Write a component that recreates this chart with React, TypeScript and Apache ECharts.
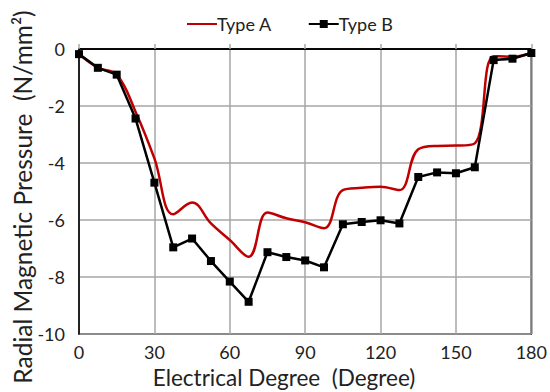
import React, { useEffect, useRef } from "react";
import * as echarts from "echarts";

const degrees = [0, 7.5, 15, 22.5, 30, 37.5, 45, 52.5, 60, 67.5, 75, 82.5, 90, 97.5, 105, 112.5, 120, 127.5, 135, 142.5, 150, 157.5, 165, 172.5, 180];
const typeA = [-0.18, -0.66, -0.9, -2.2, -3.84, -5.8, -5.39, -6.12, -6.7, -7.29, -5.74, -5.94, -6.08, -6.29, -4.95, -4.87, -4.83, -4.95, -3.52, -3.4, -3.39, -3.31, -0.25, -0.27, -0.14];
const typeB = [-0.18, -0.66, -0.9, -2.44, -4.69, -6.96, -6.65, -7.44, -8.16, -8.87, -7.13, -7.3, -7.42, -7.66, -6.15, -6.07, -6.01, -6.12, -4.49, -4.33, -4.36, -4.15, -0.39, -0.34, -0.14];
const seriesNames = ["Type A", "Type B"];
const xTitle = "Electrical Degree  (Degree)";
const yTitle = "Radial Magnetic Pressure  (N/mm\u00B2)";

const FONT = "Lato";

export default function App() {
  const ref = useRef<HTMLDivElement>(null);
  useEffect(() => {
    if (!ref.current) return;
    const chart = echarts.init(ref.current, null, { renderer: "svg" });
    chart.setOption({
      animation: false,
      backgroundColor: "#fff",
      textStyle: { fontFamily: FONT },
      grid: { left: 79, right: 16, top: 49, bottom: 58, show: true, borderColor: "#000", borderWidth: 1.5, backgroundColor: "transparent" },
      legend: {
        left: 181,
        top: 10,
        itemWidth: 30,
        itemHeight: 10,
        itemGap: 36,
        textStyle: { fontFamily: FONT, fontSize: 18, color: "#222", padding: [0, 0, 0, -5] },
        data: [
          { name: seriesNames[0], itemStyle: { opacity: 0 } },
          { name: seriesNames[1] },
        ],
      },
      xAxis: [
        {
          type: "value",
          min: 0,
          max: 180,
          interval: 30,
          axisLine: { show: true, lineStyle: { color: "#000", width: 1.5 } },
          axisTick: { show: false },
          axisLabel: { fontFamily: FONT, fontSize: 18, color: "#222", margin: 9 },
          splitLine: { show: true, lineStyle: { color: "#a6a6a6", width: 1.5 } },
        },
        {
          type: "value",
          position: "top",
          min: 0,
          max: 180,
          interval: 30,
          axisLine: { show: true, lineStyle: { color: "#000", width: 1.5 } },
          axisTick: { show: true, inside: false, length: 5, lineStyle: { color: "#a6a6a6", width: 1.5 } },
          axisLabel: { show: false },
          splitLine: { show: false },
        },
      ],
      yAxis: {
        type: "value",
        min: -10,
        max: 0,
        interval: 2,
        axisLine: { show: true, lineStyle: { color: "#000", width: 1.5 } },
        axisTick: { show: false },
        axisLabel: { fontFamily: FONT, fontSize: 18, color: "#222", margin: 14 },
        splitLine: { show: true, lineStyle: { color: "#a6a6a6", width: 1.5 } },
      },
      graphic: [
        {
          type: "text",
          x: 284,
          y: 377,
          style: { text: xTitle, fontFamily: FONT, fontSize: 22.5, fill: "#222", align: "center", verticalAlign: "middle" },
        },
        {
          type: "text",
          x: 22,
          y: 197,
          rotation: Math.PI / 2,
          style: { text: yTitle, fontFamily: FONT, fontSize: 24.5, fill: "#222", align: "center", verticalAlign: "middle" },
        },
      ],
      series: [
        {
          name: seriesNames[0],
          type: "line",
          data: degrees.map((d, i) => [d, typeA[i]]),
          smooth: 0.4,
          symbol: "none",
          lineStyle: { color: "#c00000", width: 2.5 },
          itemStyle: { color: "#c00000" },
          z: 2,
        },
        {
          name: seriesNames[1],
          type: "line",
          data: degrees.map((d, i) => [d, typeB[i]]),
          symbol: "rect",
          symbolSize: 8,
          lineStyle: { color: "#000", width: 2.5 },
          itemStyle: { color: "#000" },
          z: 3,
        },
      ],
    });
    return () => chart.dispose();
  }, []);
  return <div ref={ref} style={{ width: 550, height: 392, position: "absolute", left: 0, top: 0 }} />;
}
